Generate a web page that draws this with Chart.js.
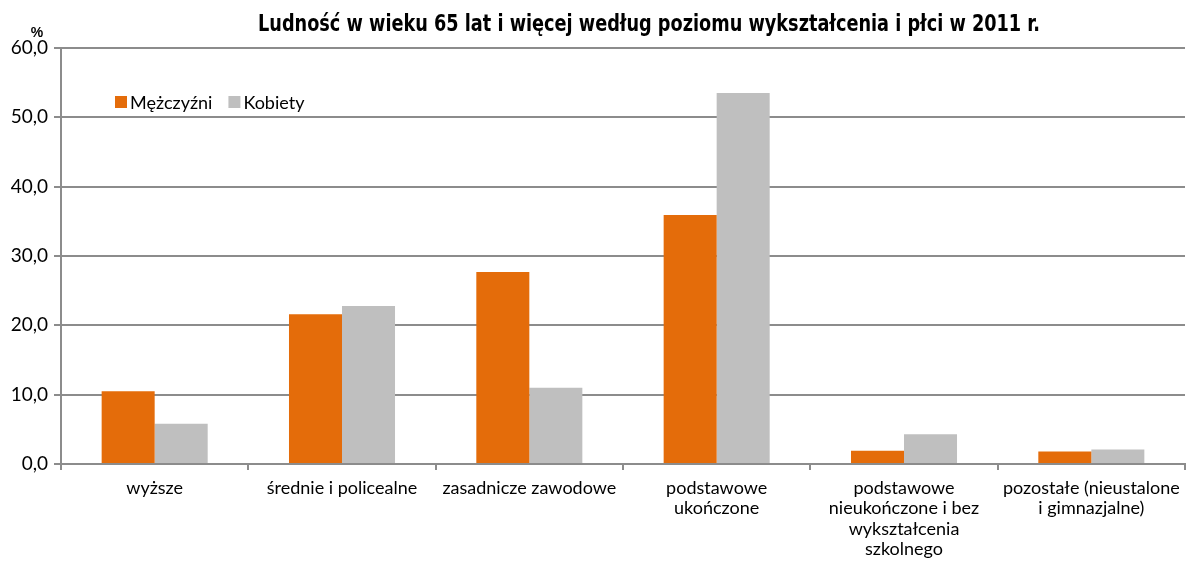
<!DOCTYPE html>
<html><head><meta charset="utf-8">
<script src="https://cdn.jsdelivr.net/npm/chart.js@4.4.1/dist/chart.umd.min.js"></script>
<style>html,body{margin:0;padding:0;background:#fff}#wrap{width:1195px;height:573px;position:relative}</style>
</head><body><div id="wrap"><canvas id="c" width="1195" height="573"></canvas></div>
<script>
const categories = [
  'wyższe',
  'średnie i policealne',
  'zasadnicze zawodowe',
  ['podstawowe', 'ukończone'],
  ['podstawowe', 'nieukończone i bez', 'wykształcenia', 'szkolnego'],
  ['pozostałe (nieustalone', 'i gimnazjalne)']
];
const seriesNames = ['Mężczyźni', 'Kobiety'];
const men = [10.5, 21.6, 27.7, 35.9, 1.9, 1.8];
const women = [5.8, 22.8, 11.0, 53.5, 4.3, 2.1];
const titleText = 'Ludność w wieku 65 lat i więcej według poziomu wykształcenia i płci w 2011 r.';
const unitText = '%';

const colors = ['#E46C0A', '#BFBFBF'];
const FONT = 'Lato, "Open Sans", sans-serif';

const decor = {
  id: 'decor',
  afterDraw(chart) {
    const ctx = chart.ctx;
    ctx.save();
    ctx.fillStyle = '#000';
    ctx.font = 'bold 23px "DejaVu Sans Condensed", "DejaVu Sans", sans-serif';
    ctx.textAlign = 'center';
    ctx.textBaseline = 'middle';
    const tw = ctx.measureText(titleText).width;
    const target = 782;
    ctx.save();
    ctx.translate(649, 25);
    ctx.scale(Math.min(1, target / tw), 1);
    ctx.fillText(titleText, 0, 0);
    ctx.restore();
    ctx.font = 'bold 14px "Liberation Sans", sans-serif';
    ctx.fillText(unitText, 37, 33);
    // legend
    ctx.font = '18px ' + FONT;
    ctx.textAlign = 'left';
    let x = 115;
    const y = 102;
    seriesNames.forEach((n, i) => {
      ctx.fillStyle = colors[i];
      ctx.fillRect(x, y - 6, 12, 12);
      ctx.fillStyle = '#000';
      ctx.fillText(n, x + 15, y + 1);
      x += 15 + ctx.measureText(n).width + 16;
    });
    ctx.restore();
  }
};

new Chart(document.getElementById('c'), {
  type: 'bar',
  data: {
    labels: categories,
    datasets: [
      { label: seriesNames[0], data: men, backgroundColor: colors[0] },
      { label: seriesNames[1], data: women, backgroundColor: colors[1] }
    ]
  },
  options: {
    responsive: false,
    animation: false,
    layout: { padding: { top: 48, right: 10, left: 0, bottom: 0 } },
    plugins: { legend: { display: false }, title: { display: false }, tooltip: { enabled: false } },
    datasets: { bar: { barPercentage: 1.0, categoryPercentage: 0.566 } },
    scales: {
      x: {
        afterFit(s) { s.height = 109; },
        grid: { offset: true, drawOnChartArea: false, drawTicks: true, tickLength: 6, color: '#8c8c8c', lineWidth: 2 },
        border: { color: '#8c8c8c', width: 2 },
        ticks: { color: '#000', font: { family: FONT, size: 18, lineHeight: 1.13 }, padding: 8, maxRotation: 0, autoSkip: false }
      },
      y: {
        min: 0, max: 60,
        afterFit(s) { s.width = 61; },
        grid: { color: '#8c8c8c', lineWidth: 2, tickLength: 7 },
        border: { color: '#8c8c8c', width: 2 },
        ticks: { stepSize: 10, color: '#000', font: { family: FONT, size: 19 }, padding: 6,
          callback: v => v.toFixed(1).replace('.', ',') }
      }
    }
  },
  plugins: [decor]
});
</script></body></html>
